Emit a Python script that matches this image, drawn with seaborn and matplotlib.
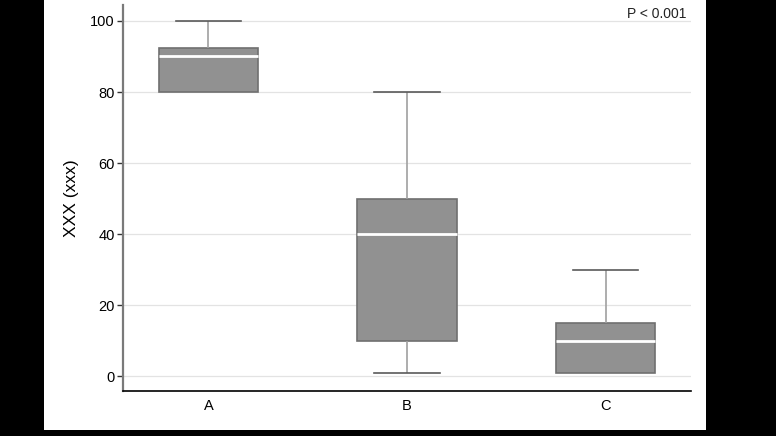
import numpy as np
import pandas as pd
import matplotlib.pyplot as plt
import seaborn as sns

# Resumo de cinco números
grupos = ['A', 'B', 'C']
minimos = [80, 1, 1]
q1s = [80, 10, 1]
medianas = [90, 40, 10]
q3s = [92.5, 50, 15]
maximos = [100, 80, 30]

linhas = []
for g, mn, a, md, b, mx in zip(grupos, minimos, q1s, medianas, q3s, maximos):
    for v in [mn, a, md, b, mx]:
        linhas.append({'grupo': g, 'valor': v})
df = pd.DataFrame(linhas)

plt.rcParams['font.family'] = ['Liberation Sans', 'DejaVu Sans']

fig = plt.figure(figsize=(7.76, 4.36), dpi=100)
fig.patch.set_facecolor('black')

# fundo branco (a área fora dele fica preta)
fundo = fig.add_axes([44 / 776, 1 - 430 / 436, (706 - 44) / 776, 430 / 436])
fundo.set_facecolor('white')
fundo.set_xticks([])
fundo.set_yticks([])
for s in fundo.spines.values():
    s.set_visible(False)
fundo.set_zorder(0)

ax = fig.add_axes([123 / 776, 1 - 391 / 436, (691 - 123) / 776, (391 - 5) / 436])
ax.set_zorder(1)
ax.set_facecolor('white')

cor_cap = '#5a5a5a'
sns.boxplot(data=df, x='grupo', y='valor', order=grupos, width=0.5, ax=ax,
            color='#919191', saturation=1, whis=1.5,
            boxprops=dict(facecolor='#919191', edgecolor='#707070', linewidth=1.2),
            medianprops=dict(color='white', linewidth=2),
            whiskerprops=dict(color='#a0a0a0', linewidth=1.2),
            capprops=dict(color=cor_cap, linewidth=1.2),
            capwidths=0.33, showfliers=False)

# esconder caps de bigodes com comprimento zero (mín == Q1)
for ln in ax.lines:
    xd, yd = np.asarray(ln.get_xdata(), float), np.asarray(ln.get_ydata(), float)
    if len(xd) == 2 and yd[0] == yd[1] and abs(xd[1] - xd[0] - 0.33) < 0.01:
        i = int(round(xd.mean()))
        if minimos[i] == q1s[i] and yd[0] == minimos[i]:
            ln.set_visible(False)

ax.set_xlim(-0.43, 2.43)
ax.set_ylim(-4.2, 104.5)
ax.set_yticks([0, 20, 40, 60, 80, 100])
ax.yaxis.grid(True, color='#e3e3e3', linewidth=0.9)
ax.set_axisbelow(True)

for s in ['top', 'right']:
    ax.spines[s].set_visible(False)
ax.spines['left'].set_color('#7a7a7a')
ax.spines['left'].set_linewidth(1.6)
ax.spines['bottom'].set_color('black')
ax.spines['bottom'].set_linewidth(1.2)

ax.tick_params(axis='y', length=4, width=1, color='#333333', labelsize=10.5, pad=2)
ax.tick_params(axis='x', length=0, labelsize=10.5, pad=6)

ax.set_xlabel('')
ax.set_ylabel('XXX (xxx)', fontsize=12.5, labelpad=8)

fig.text(686 / 776, 1 - 14 / 436, 'P < 0.001', ha='right', va='center', fontsize=10, color='#222222')

fig.savefig('out.png', dpi=100, facecolor=fig.get_facecolor())
